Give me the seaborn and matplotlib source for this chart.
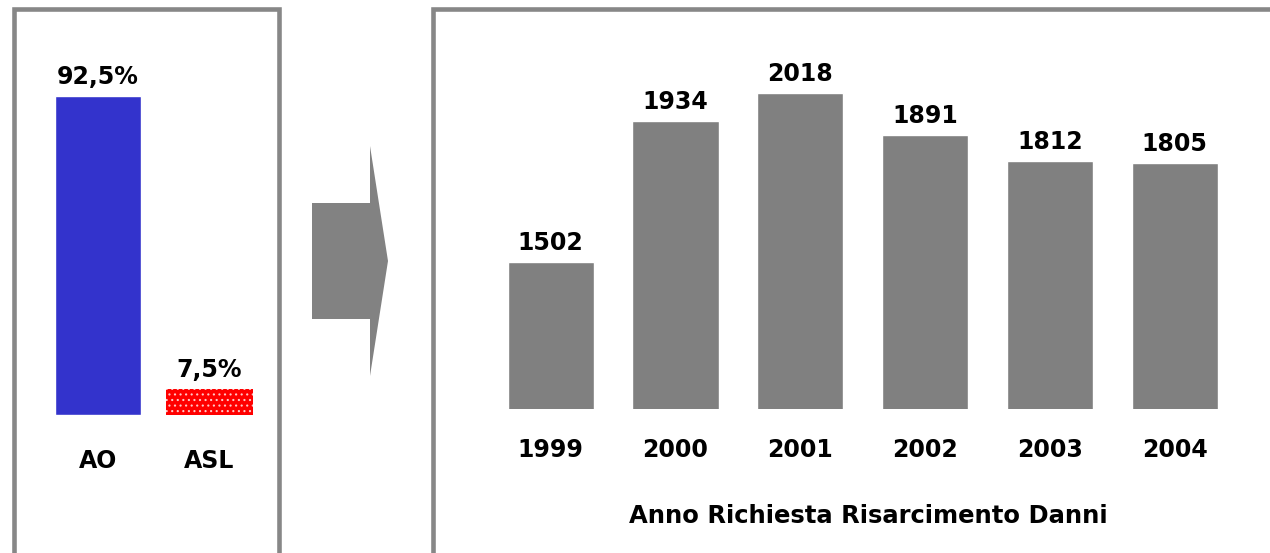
import matplotlib
matplotlib.use("Agg")
import matplotlib.pyplot as plt
from matplotlib.patches import Rectangle, Polygon
import seaborn as sns
import pandas as pd

# ── data ────────────────────────────────────────────
enti = ["AO", "ASL"]
quota = [92.5, 7.5]
quota_lbl = ["92,5%", "7,5%"]

anni = ["1999", "2000", "2001", "2002", "2003", "2004"]
richieste = [1502, 1934, 2018, 1891, 1812, 1805]

W, H = 1270, 553
sns.set_style("white")
plt.rcParams["font.family"] = ["DejaVu Sans"]
plt.rcParams["font.weight"] = "bold"
plt.rcParams["text.color"] = "black"
plt.rcParams["xtick.color"] = "black"
plt.rcParams["hatch.linewidth"] = 0.8

fig = plt.figure(figsize=(W / 100, H / 100), dpi=100)
fig.patch.set_facecolor("white")


def px_axes(x0, x1, top, bottom):
    return fig.add_axes([x0 / W, (H - bottom) / H, (x1 - x0) / W, (bottom - top) / H])


# ── frames and arrow ────────────────────────────────
grey = "#878787"
fig.add_artist(Rectangle((14 / W, -0.1), (279.5 - 14) / W, 1.1 - 9 / H,
                         transform=fig.transFigure, fill=False, ec=grey, lw=3.3))
fig.add_artist(Rectangle((432.5 / W, -0.1), 1.0, 1.1 - 9.5 / H,
                         transform=fig.transFigure, fill=False, ec=grey, lw=3.3))
arrow = [(312, 203), (370, 203), (370, 146), (388, 261), (370, 376), (370, 319), (312, 319)]
fig.add_artist(Polygon([(x / W, 1 - y / H) for x, y in arrow], closed=True,
                       transform=fig.transFigure, fc="#828282", ec="none"))

# ── left: AO vs ASL ─────────────────────────────────
axl = px_axes(42.25, 265.25, 70, 415)
df_l = pd.DataFrame({"ente": enti, "quota": quota})
sns.barplot(data=df_l, x="ente", y="quota", hue="ente",
            palette=["#3333cc", "#ff0000"], width=0.775,
            saturation=1, legend=False, ax=axl)
axl.set_ylim(0, 100)
red = axl.patches[1]
red.set_hatch("...")
red.set_edgecolor("#ffc8c8")
red.set_linewidth(0)
axl.bar_label(axl.containers[0], labels=quota_lbl[:1], padding=5, fontsize=17,
              fontweight="bold", color="black")
axl.bar_label(axl.containers[1], labels=quota_lbl[1:], padding=5, fontsize=17,
              fontweight="bold", color="black")
axl.set_xlabel("")
axl.set_ylabel("")
axl.set_yticks([])
axl.tick_params(axis="x", length=0, pad=24.5, labelsize=17, labelcolor="black")
sns.despine(ax=axl, left=True, bottom=True)

# ── right: richieste per anno ───────────────────────
axr = px_axes(488.3, 1237.1, 60, 409)
df_r = pd.DataFrame({"anno": anni, "n": richieste})
sns.barplot(data=df_r, x="anno", y="n", color="#808080", saturation=1,
            width=0.69, ax=axr)
axr.set_ylim(1054, 2119)
axr.bar_label(axr.containers[0], padding=5, fontsize=17, fontweight="bold", color="black")
axr.set_ylabel("")
axr.set_yticks([])
axr.tick_params(axis="x", length=0, pad=21, labelsize=17, labelcolor="black")
axr.set_xlabel("Anno Richiesta Risarcimento Danni", fontsize=17.5,
               fontweight="bold", color="black")
axr.xaxis.set_label_coords(0.507, -0.272)
sns.despine(ax=axr, left=True, bottom=True)

for ax in (axl, axr):
    ax.set_facecolor("none")
    for t in ax.get_xticklabels():
        t.set_fontweight("bold")

fig.savefig("out.png", dpi=100)
